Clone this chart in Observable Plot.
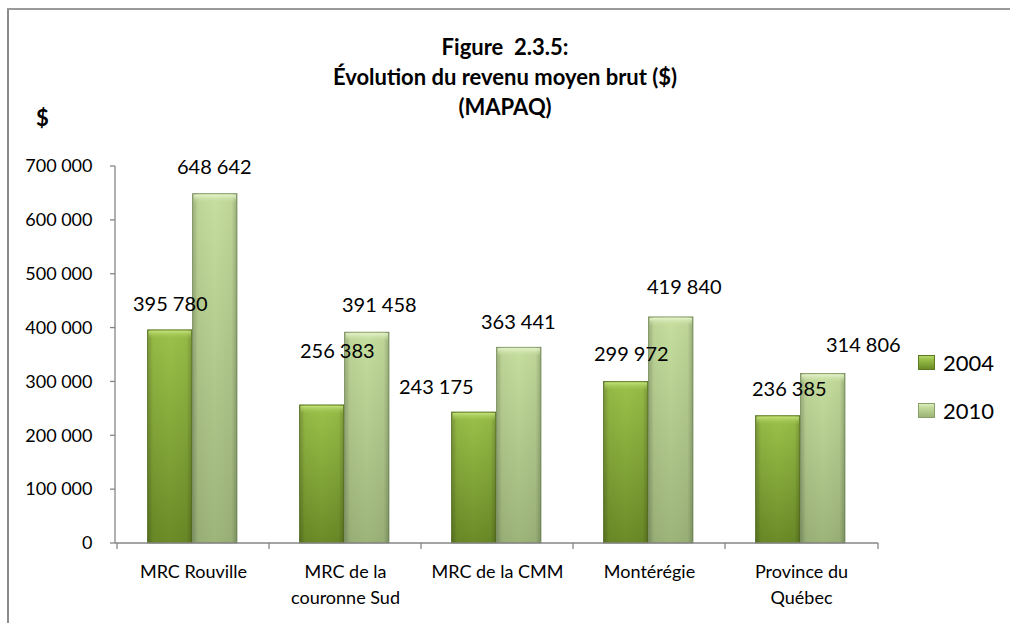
<!DOCTYPE html>
<html>
<head>
<meta charset="utf-8">
<script src="https://cdn.jsdelivr.net/npm/d3@7"></script>
<script src="https://cdn.jsdelivr.net/npm/@observablehq/plot@0.6"></script>
<style>
  body { margin: 0; background: #fff; }
  #wrap { position: relative; width: 1010px; height: 623px; overflow: hidden; font-family: Lato, "Open Sans", sans-serif; color: #000; }
  #frameL { position: absolute; left: 7px; top: 8px; width: 2px; height: 640px; background: #8a8a8a; }
  #frameT { position: absolute; left: 7px; top: 8px; width: 1010px; height: 2px; background: #9a9a9a; }
  #title { position: absolute; left: 0; top: 32px; width: 1010px; text-align: center; font-weight: bold; font-size: 22px; line-height: 30px; }
  #unit { position: absolute; left: 36px; top: 104px; font-weight: bold; font-size: 22px; }
  #legend { position: absolute; left: 918px; top: 349px; font-size: 22px; }
  .li { display: flex; align-items: center; height: 26px; margin-bottom: 22px; }
  .sw { width: 15px; height: 13px; margin-right: 8px; border: 1px solid #5d7a22; }
  .sw.a { background: linear-gradient(#b5d66a 0, #9cc24a 25%, #6b8b27 100%); }
  .sw.b { background: linear-gradient(#dcedc0 0, #c4dc9c 25%, #9cb376 100%); border-color: #8aa06a; }
  #chart { position: absolute; left: 0; top: 0; }
</style>
</head>
<body>
<div id="wrap">
  <svg width="0" height="0" style="position:absolute">
    <defs>
      <linearGradient id="g2004" x1="0" y1="0" x2="0" y2="1">
        <stop offset="0" stop-color="#9cc24a"/>
        <stop offset="1" stop-color="#6b8b27"/>
      </linearGradient>
      <linearGradient id="g2010" x1="0" y1="0" x2="0" y2="1">
        <stop offset="0" stop-color="#c6de9e"/>
        <stop offset="1" stop-color="#9db47a"/>
      </linearGradient>
      <linearGradient id="gEdge" x1="0" y1="0" x2="1" y2="0">
        <stop offset="0" stop-color="#000" stop-opacity="0.22"/>
        <stop offset="0.12" stop-color="#000" stop-opacity="0.04"/>
        <stop offset="0.5" stop-color="#000" stop-opacity="0"/>
        <stop offset="0.88" stop-color="#000" stop-opacity="0.04"/>
        <stop offset="1" stop-color="#000" stop-opacity="0.22"/>
      </linearGradient>
      <linearGradient id="gCap2004" x1="0" y1="0" x2="0" y2="1">
        <stop offset="0" stop-color="#c2e07a" stop-opacity="1"/>
        <stop offset="1" stop-color="#9cc24a" stop-opacity="0"/>
      </linearGradient>
      <linearGradient id="gCap2010" x1="0" y1="0" x2="0" y2="1">
        <stop offset="0" stop-color="#e4f2cc" stop-opacity="1"/>
        <stop offset="1" stop-color="#c6de9e" stop-opacity="0"/>
      </linearGradient>
    </defs>
  </svg>
  <div id="frameL"></div>
  <div id="frameT"></div>
  <div id="title">Figure&nbsp; 2.3.5:<br>Évolution du revenu moyen brut ($)<br>(MAPAQ)</div>
  <div id="unit">$</div>
  <div id="chart"></div>
  <div id="legend">
    <div class="li"><div class="sw a"></div><span id="lg0"></span></div>
    <div class="li"><div class="sw b"></div><span id="lg1"></span></div>
  </div>
</div>
<script>
const categories = ["MRC Rouville", "MRC de la couronne Sud", "MRC de la CMM", "Montérégie", "Province du Québec"];
const tickLabels = ["MRC Rouville", "MRC de la\ncouronne Sud", "MRC de la CMM", "Montérégie", "Province du\nQuébec"];
const years = ["2004", "2010"];
const values2004 = [395780, 256383, 243175, 299972, 236385];
const values2010 = [648642, 391458, 363441, 419840, 314806];
const yTicks = [0, 100000, 200000, 300000, 400000, 500000, 600000, 700000];
// label nudges [dx, dy] relative to the default position above each bar
const nudge2004 = [[0, 0], [15, -28], [-38, 1], [5, -1], [11, -1]];
const nudge2010 = [[-1, -1], [12, -1], [-1, 1], [13, -4], [40, -2]];

document.getElementById("lg0").textContent = years[0];
document.getElementById("lg1").textContent = years[1];

const W = 1010, H = 623;
const mL = 115, mR = 132, mT = 166, mB = 80;
const bw = (W - mL - mR) / categories.length;
const half = bw / 2;
const barW = 45;

const fmt = d => d3.format(",")(d).replace(/,/g, " ");

const rows2004 = categories.map((c, i) => ({cat: c, year: years[0], value: values2004[i]}));
const rows2010 = categories.map((c, i) => ({cat: c, year: years[1], value: values2010[i]}));

const ins2004 = {insetLeft: half - barW - 0.7, insetRight: half + 0.7};
const ins2010 = {insetLeft: half - 0.7, insetRight: half - barW + 0.7};
const capIns2004 = {insetLeft: half - barW + 0.3, insetRight: half + 1.7};
const capIns2010 = {insetLeft: half + 0.3, insetRight: half - barW + 1.7};

function axisLines(index, scales) {
  const {x, y} = scales;
  const [x0, x1] = x.range();
  const y0 = y(0), yTop = y(yTicks[yTicks.length - 1]);
  const g = d3.create("svg:g").attr("stroke", "#868686").attr("stroke-width", 1.3).attr("fill", "none");
  g.append("line").attr("x1", x0).attr("x2", x0).attr("y1", yTop).attr("y2", y0);
  g.append("line").attr("x1", x0).attr("x2", x1).attr("y1", y0).attr("y2", y0);
  for (const t of yTicks) {
    g.append("line").attr("x1", x0 - 5).attr("x2", x0).attr("y1", y(t)).attr("y2", y(t));
  }
  const bounds = categories.map(c => x(c)).concat([x1]);
  for (const b of bounds) {
    g.append("line").attr("x1", b).attr("x2", b).attr("y1", y0).attr("y2", y0 + 6);
  }
  return g.node();
}

const labelMarks = [];
rows2004.forEach((d, i) => labelMarks.push(Plot.text([d], {
  x: "cat", y: "value", text: d => fmt(d.value), fontSize: 20, fill: "#000",
  dx: -barW / 2 - 0.7 + nudge2004[i][0],
  dy: -26 + nudge2004[i][1]
})));
rows2010.forEach((d, i) => labelMarks.push(Plot.text([d], {
  x: "cat", y: "value", text: d => fmt(d.value), fontSize: 20, fill: "#000",
  dx: barW / 2 - 0.7 + nudge2010[i][0],
  dy: -26 + nudge2010[i][1]
})));

const chart = Plot.plot({
  width: W, height: H,
  marginLeft: mL, marginRight: mR, marginTop: mT, marginBottom: mB,
  style: {fontFamily: "Lato, 'Open Sans', sans-serif", background: "transparent", color: "#000", overflow: "visible"},
  x: {domain: categories, padding: 0, label: null, axis: null},
  y: {domain: [0, 700000], label: null, axis: null},
  marks: [
    Plot.barY(rows2004, {x: "cat", y: "value", fill: "url(#g2004)", stroke: "#5a7620", strokeWidth: 0.8, ...ins2004}),
    Plot.barY(rows2004, {x: "cat", y: "value", fill: "url(#gEdge)", ...ins2004}),
    Plot.barY(rows2004, {x: "cat", y1: "value", y2: "value", insetTop: 1, insetBottom: -9, fill: "url(#gCap2004)", ...capIns2004}),
    Plot.barY(rows2010, {x: "cat", y: "value", fill: "url(#g2010)", stroke: "#7f9660", strokeWidth: 0.8, ...ins2010}),
    Plot.barY(rows2010, {x: "cat", y: "value", fill: "url(#gEdge)", ...ins2010}),
    Plot.barY(rows2010, {x: "cat", y1: "value", y2: "value", insetTop: 1, insetBottom: -9, fill: "url(#gCap2010)", ...capIns2010}),
    axisLines,
    Plot.axisY({ticks: yTicks, tickFormat: fmt, tickSize: 0, tickPadding: 23, fontSize: 18, fill: "#000"}),
    Plot.axisX({tickSize: 0, tickPadding: 17, fontSize: 18, lineHeight: 1.4, fill: "#000",
      tickFormat: c => tickLabels[categories.indexOf(c)]}),
    ...labelMarks
  ]
});
document.getElementById("chart").appendChild(chart);
</script>
</body>
</html>
